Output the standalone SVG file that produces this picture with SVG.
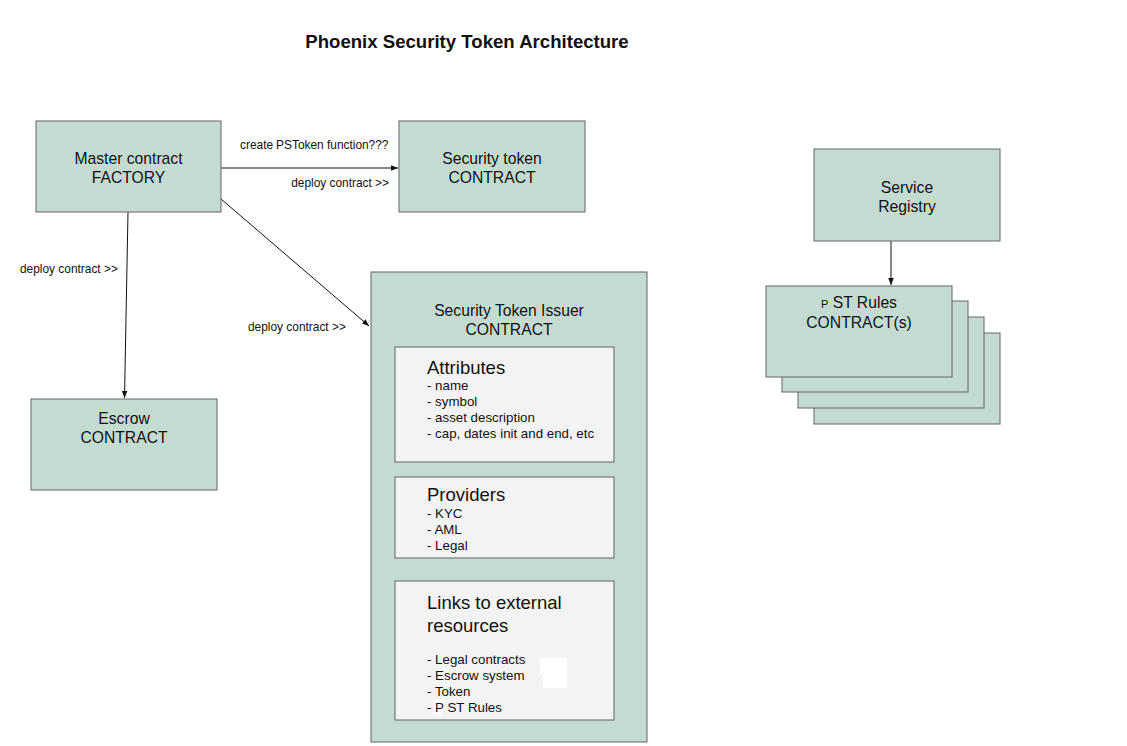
<svg xmlns="http://www.w3.org/2000/svg" width="1127" height="746" viewBox="0 0 1127 746">
<style>
.n{fill:#c4dbd1;stroke:#646464;stroke-width:1}
.i{fill:#f3f3f3;stroke:#646464;stroke-width:1}
text{font-family:"Liberation Sans",Arial,sans-serif;fill:#111}
.t{font-size:15.7px;text-anchor:middle}
.s{font-size:11.9px}
.h{font-size:18.5px}
.b{font-size:13.3px}
.c{stroke:#111;stroke-width:1;fill:none;marker-end:url(#a)}
</style>
<defs>
<marker id="a" viewBox="0 0 10 10" refX="10" refY="5" markerWidth="7" markerHeight="7" markerUnits="userSpaceOnUse" orient="auto">
<path d="M0,1 L10,5 L0,9 Z" fill="#111"/>
</marker>
</defs>
<rect width="1127" height="746" fill="#fff"/>
<text x="467" y="48" style="font-size:18.6px;font-weight:bold;text-anchor:middle">Phoenix Security Token Architecture</text>

<g id="connectors">
<line class="c" x1="221" y1="168" x2="398" y2="168"/>
<line class="c" x1="128" y1="212" x2="124.5" y2="398"/>
<line class="c" x1="221" y1="199" x2="369" y2="326"/>
<line class="c" x1="891" y1="241" x2="891" y2="285"/>
<text class="s" x="240" y="149">create<tspan dx="3">P</tspan>SToken function???</text>
<text class="s" x="389" y="187" text-anchor="end">deploy contract &gt;&gt;</text>
<text class="s" x="20" y="273">deploy contract &gt;&gt;</text>
<text class="s" x="248" y="331">deploy contract &gt;&gt;</text>
</g>

<g id="master">
<rect class="n" x="36" y="121" width="185" height="91"/>
<text class="t" x="128.5" y="164">Master contract</text>
<text class="t" x="128.5" y="183">FACTORY</text>
</g>

<g id="security-token">
<rect class="n" x="399" y="121" width="186" height="91"/>
<text class="t" x="492" y="164">Security token</text>
<text class="t" x="492" y="183">CONTRACT</text>
</g>

<g id="service-registry">
<rect class="n" x="814" y="149" width="186" height="92"/>
<text class="t" x="907" y="193">Service</text>
<text class="t" x="907" y="212">Registry</text>
</g>

<g id="st-rules">
<rect class="n" x="814" y="333" width="186" height="91"/>
<rect class="n" x="798" y="317" width="186" height="91"/>
<rect class="n" x="782" y="301" width="186" height="91"/>
<rect class="n" x="766" y="286" width="186" height="91"/>
<text class="t" x="859" y="308"><tspan style="font-size:11px">P</tspan> ST Rules</text>
<text class="t" x="859" y="328">CONTRACT(s)</text>
</g>

<g id="escrow">
<rect class="n" x="31" y="399" width="186" height="91"/>
<text class="t" x="124" y="424">Escrow</text>
<text class="t" x="124" y="443">CONTRACT</text>
</g>

<g id="issuer">
<rect class="n" x="371" y="272" width="276" height="470"/>
<text class="t" x="509" y="316">Security Token Issuer</text>
<text class="t" x="509" y="335">CONTRACT</text>
</g>

<g id="attributes">
<rect class="i" x="395" y="347" width="219" height="115"/>
<text class="h" x="427" y="374">Attributes</text>
<text class="b" x="427" y="390">- name</text>
<text class="b" x="427" y="406">- symbol</text>
<text class="b" x="427" y="422">- asset description</text>
<text class="b" x="427" y="438">- cap, dates init and end, etc</text>
</g>

<g id="providers">
<rect class="i" x="395" y="477" width="219" height="81"/>
<text class="h" x="427" y="501">Providers</text>
<text class="b" x="427" y="518">- KYC</text>
<text class="b" x="427" y="534">- AML</text>
<text class="b" x="427" y="550">- Legal</text>
</g>

<g id="links">
<rect class="i" x="395" y="581" width="219" height="139"/>
<rect x="540" y="658" width="27" height="16" fill="#fff"/>
<rect x="543" y="674" width="24" height="14" fill="#fff"/>
<rect x="433" y="700" width="9" height="15" fill="#fff"/>
<text class="h" x="427" y="609">Links to external</text>
<text class="h" x="427" y="632">resources</text>
<text class="b" x="427" y="664">- Legal contracts</text>
<text class="b" x="427" y="680">- Escrow system</text>
<text class="b" x="427" y="696">- Token</text>
<text class="b" x="427" y="712">- P ST Rules</text>
</g>
</svg>
